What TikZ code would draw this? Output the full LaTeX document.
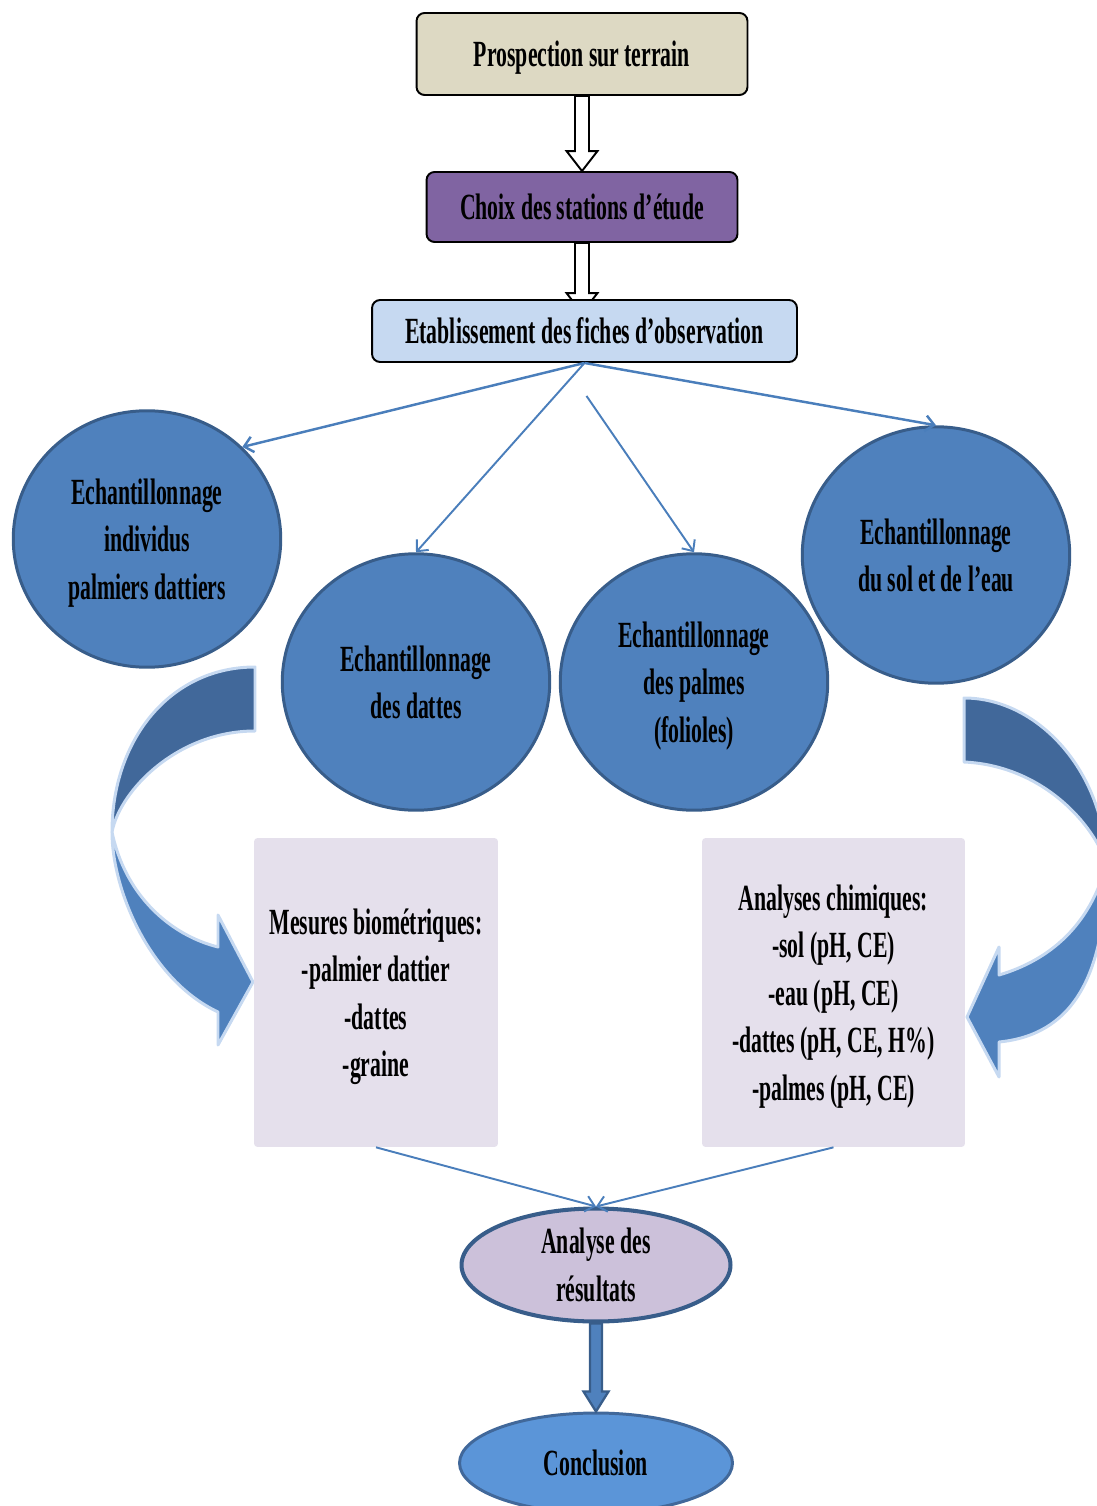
\documentclass[tikz,border=0pt]{standalone}
\usepackage{fontspec}
\setmainfont{Liberation Serif}[FakeStretch=0.59]
\usetikzlibrary{shapes.geometric,arrows.meta,calc,backgrounds}
\definecolor{sable}{HTML}{DDD9C3}
\definecolor{mauve}{HTML}{8064A2}
\definecolor{ciel}{HTML}{C6D9F1}
\definecolor{bleu}{HTML}{4F81BD}
\definecolor{bleusombre}{HTML}{41689A}
\definecolor{bleufonce}{HTML}{385D8A}
\definecolor{bleuclair}{HTML}{5B95D8}
\definecolor{lavande}{HTML}{E5E0EC}
\definecolor{lilas}{HTML}{CCC1DA}
\definecolor{trait}{HTML}{4A7EBB}
\definecolor{contour}{HTML}{C6D9F1}
\tikzset{
  bande/.style={draw=contour,line width=1.7pt,line join=round},
  creux/.style={draw=black,fill=white,line width=1.1pt},
  plein/.style={draw=bleufonce,fill=bleu,line width=1.3pt}
}
\begin{document}
\begin{tikzpicture}[x=0.02cm,y=-0.02cm,font=\bfseries\fontsize{21}{27}\selectfont]
\useasboundingbox (0,0) rectangle (1097,1506);

      \begin{scope}[every node/.style={draw,line width=1.1pt,rounded corners=0.16cm,align=center,inner sep=0pt,text depth=0pt}]
        \node[fill=sable,minimum width=6.62cm,minimum height=1.64cm] (pros) at (582,54) {Prospection sur terrain};
        \node[fill=mauve,minimum width=6.22cm,minimum height=1.4cm] (choix) at (582,207) {Choix des stations d’étude};
        \node[fill=ciel,minimum width=8.5cm,minimum height=1.24cm] (fiche) at (584.5,331) {Etablissement des fiches d’observation};
      \end{scope}

      \coordinate (bout) at ($(choix.south |- fiche.north)+(0,14)$);
      \coordinate (depart) at ($(fiche.south)+(2,33)$);

      \draw[creux] ($(pros.south)+(-7,0)$) -- ($(choix.north)+(-7,-20)$) -- ++(-8.5,0) -- (choix.north)
        -- ++(15.5,-20) -- ++(-8.5,0) -- ($(pros.south)+(7,0)$) -- cycle;
      \begin{scope}[on background layer]
        \draw[creux] ($(choix.south)+(-7,0)$) -- ($(bout)+(-7,-20)$) -- ++(-8.5,0) -- (bout)
          -- ++(15.5,-20) -- ++(-8.5,0) -- ($(choix.south)+(7,0)$) -- cycle;
      \end{scope}

      \begin{scope}[every node/.style={ellipse,draw=bleufonce,fill=bleu,line width=1.7pt,minimum width=5.35cm,minimum height=5.13cm,align=center,inner sep=0pt,text depth=0pt}]
        \node (indiv) at (147,539) {Echantillonnage\\individus\\palmiers dattiers};
        \node (datte) at (416,682) {Echantillonnage\\des dattes};
        \node (palme) at (694,682) {Echantillonnage\\des palmes\\(folioles)};
        \node (sol)   at (936,555) {Echantillonnage\\du sol et de l’eau};
      \end{scope}

      \draw[bande,fill=bleusombre] (255,667) .. controls (170,667) and (112,740) .. (112,832)
        .. controls (120,790) and (178,731) .. (255,731) -- cycle;
      \draw[bande,fill=bleu] (112,832) .. controls (112,890) and (150,980) .. (218,1012) -- (218,1045) -- (253,982)
        -- (218,915) -- (218,947) .. controls (170,935) and (125,895) .. (112,832) -- cycle;
      \draw[bande,fill=bleusombre] (964,698) .. controls (1040,698) and (1106,775) .. (1106,865)
        .. controls (1100,835) and (1050,766) .. (964,762) -- cycle;
      \draw[bande,fill=bleu] (1106,865) .. controls (1106,980) and (1070,1035) .. (999,1042) -- (999,1077) -- (967,1017)
        -- (999,947) -- (999,975) .. controls (1050,960) and (1090,925) .. (1106,865) -- cycle;

      \begin{scope}[every node/.style={fill=lavande,rounded corners=2pt,align=center,inner sep=0pt,text depth=0pt,minimum height=6.18cm}]
        \node[minimum width=4.88cm] (mesure) at (376,992.5) {Mesures biométriques:\\-palmier dattier\\-dattes\\-graine};
        \node[minimum width=5.26cm] (analyse) at (833.5,992.5) {Analyses chimiques:\\-sol (pH, CE)\\-eau (pH, CE)\\-dattes (pH, CE, H\%)\\-palmes (pH, CE)};
      \end{scope}

      \begin{scope}[every node/.style={ellipse,align=center,inner sep=0pt}]
        \node[draw=bleufonce,fill=lilas,line width=2.3pt,minimum width=5.38cm,minimum height=2.26cm] (result) at (596,1265) {Analyse des\\résultats};
        \node[draw=bleusombre,fill=bleuclair,line width=1.7pt,minimum width=5.46cm,minimum height=2cm,text depth=0pt] (concl) at (596,1463) {Conclusion};
      \end{scope}

      \draw[plein] ($(result.south)+(-6,0)$) -- ($(concl.north)+(-6,-20)$) -- ++(-6.5,0) -- (concl.north)
        -- ++(12.5,-20) -- ++(-6.5,0) -- ($(result.south)+(6,0)$) -- cycle;

      \begin{scope}[every edge/.style={draw=trait,line width=1.1pt,-{Straight Barb[length=5pt,width=9pt]}}]
        \path (fiche.south) edge[line width=1.4pt] (indiv.44);
        \path (fiche.south) edge (datte.north);
        \path (depart) edge (palme.north);
        \path (fiche.south) edge[line width=1.4pt] (sol.north);
        \path (mesure.south) edge (result.north);
        \path (analyse.south) edge (result.north);
      \end{scope}

    \end{tikzpicture}
\end{document}
